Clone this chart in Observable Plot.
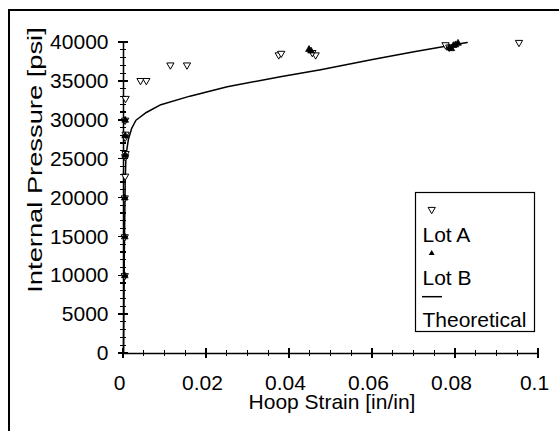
<!DOCTYPE html>
<html><head><meta charset="utf-8">
<script src="https://cdn.jsdelivr.net/npm/d3@7"></script>
<script src="https://cdn.jsdelivr.net/npm/@observablehq/plot@0.6"></script>
<style>
html,body{margin:0;padding:0;background:#fff}
body{width:559px;height:431px;overflow:hidden;position:relative;font-family:"Liberation Sans",Arial,sans-serif}
#frame{position:absolute;left:8px;top:9px;width:700px;height:600px;border-left:2px solid #000;border-top:2px solid #000}
#chart{position:absolute;left:0;top:0;width:559px;height:431px}
#chart svg{max-width:none}
#ticks{position:absolute;left:0;top:0;width:559px;height:431px;z-index:5;pointer-events:none}
#ticks div{position:absolute;background:#000}
</style></head><body>
<div id="frame"></div><div id="chart"></div><div id="ticks"></div>
<script>
// ---- data ----
const lotAStrain   = [0.0003,0.0003,0.0003,0.0004,0.0004,0.0005,0.0004,0.0005,0.0004,0.0005,0.0041,0.0055,0.0113,0.0153,0.0374,0.0380,0.0463,0.0455,0.0776,0.0785,0.0953];
const lotAPressure = [10000,15000,20000,22800,25300,25700,27800,28200,30000,32800,35100,35100,37100,37100,38400,38600,38400,38700,39700,39400,40000];
const lotBStrain   = [0.0003,0.0003,0.0003,0.0004,0.0004,0.0004,0.0447,0.0452,0.0785,0.0790,0.0795,0.0800,0.0806];
const lotBPressure = [10000,15000,20000,25500,28000,30000,39100,38900,39300,39200,39600,39700,39900];
const theoStrain   = [0,0.0002,0.0004,0.0006,0.0012,0.0020,0.0030,0.0055,0.0090,0.0160,0.0250,0.0378,0.0475,0.0600,0.0700,0.0828];
const theoPressure = [0,13000,22000,25500,27600,29000,30000,31000,32000,33100,34300,35600,36500,37800,38800,40000];
const xTicks = [0,0.02,0.04,0.06,0.08,0.1];
const xTickLabels = ["0","0.02","0.04","0.06","0.08","0.1"];
const xMinorTicks = [0.005,0.01,0.015,0.025,0.03,0.035,0.045,0.05,0.055,0.065,0.07,0.075,0.085,0.09,0.095];
const yTicks = [0,5000,10000,15000,20000,25000,30000,35000,40000];
const yTickLabels = ["0","5000","10000","15000","20000","25000","30000","35000","40000"];
const yMinorTicks = [1000,2000,3000,4000,6000,7000,8000,9000,11000,12000,13000,14000,16000,17000,18000,19000,
  21000,22000,23000,24000,26000,27000,28000,29000,31000,32000,33000,34000,36000,37000,38000,39000];
const xTitle = "Hoop Strain [in/in]";
const yTitle = "Internal Pressure [psi]";
const legendLabels = ["Lot A","Lot B","Theoretical"];

const W = 559, H = 431, ML = 123, MR = 21, MT = 42, MB = 78;
const xDomain = [0, 0.1], yDomain = [0, 40000];

const lotA = lotAStrain.map((x,i)=>({x, y: lotAPressure[i]}));
const lotB = lotBStrain.map((x,i)=>({x, y: lotBPressure[i]}));
const theo = theoStrain.map((x,i)=>({x, y: theoPressure[i]}));

const FONT = "Liberation Sans, Arial, sans-serif";
const plot = Plot.plot({
  width: W, height: H,
  marginLeft: ML, marginRight: MR, marginTop: MT, marginBottom: MB,
  style: {fontFamily: FONT, fontSize: "21px", background: "transparent", overflow: "visible", color: "#000"},
  x: {domain: xDomain, axis: null},
  y: {domain: yDomain, axis: null},
  marks: [
    Plot.ruleY([0], {stroke: "#000", strokeWidth: 1.5}),
    Plot.ruleX([0], {stroke: "#000", strokeWidth: 1.5}),
    Plot.text(xTicks, {x: d => d, frameAnchor: "bottom", lineAnchor: "top", dy: 22, dx: -4, fill: "#000",
      text: (d, i) => xTickLabels[i]}),
    Plot.text(yTicks, {y: d => d, frameAnchor: "left", textAnchor: "end", dx: -15, fill: "#000",
      text: (d, i) => yTickLabels[i]}),
    Plot.line(theo, {x: "x", y: "y", stroke: "#000", strokeWidth: 1.5}),
    Plot.dot(lotA, {x: "x", y: "y", symbol: "triangle", rotate: 180, r: 2.7, stroke: "#000", fill: "#fff", strokeWidth: 1}),
    Plot.dot(lotB, {x: "x", y: "y", symbol: "triangle", r: 2.5, fill: "#000", stroke: "#000", strokeWidth: 0.8})
  ]
});
document.getElementById("chart").append(plot);

const svg = d3.select(plot);

// pixel positions from the plot's own scales (fallback: the same linear mapping)
let fx, fy;
try {
  const ps = plot.scale("x"), py = plot.scale("y");
  fx = v => ps.apply(v); fy = v => py.apply(v);
  if (!isFinite(fx(0.05)) || !isFinite(fy(20000))) throw 0;
} catch (e) {
  const lx = d3.scaleLinear().domain(xDomain).range([ML, W - MR]);
  const ly = d3.scaleLinear().domain(yDomain).range([H - MB, MT]);
  fx = lx; fy = ly;
}
const x0 = fx(0), y0 = fy(0);

// tick marks crossing the axes (HTML overlay)
const tk = document.getElementById("ticks");
function addTick(left, top, w, h) {
  const el = document.createElement("div");
  el.style.left = left + "px"; el.style.top = top + "px";
  el.style.width = w + "px"; el.style.height = h + "px";
  tk.appendChild(el);
}
xTicks.forEach(v => addTick(fx(v) - 0.75, y0 - 5, 1.5, 10));
xMinorTicks.forEach(v => addTick(fx(v) - 0.6, y0 - 3, 1.2, 6));
yTicks.forEach(v => addTick(x0 - 5, fy(v) - 0.75, 10, 1.5));
yMinorTicks.forEach(v => addTick(x0 - 3, fy(v) - 0.6, 6, 1.2));

// titles
svg.append("text").attr("x", 332).attr("y", 409).attr("text-anchor", "middle")
  .attr("font-family", FONT).attr("font-size", 21).attr("fill", "#000").text(xTitle);
svg.append("text").attr("transform", "translate(42,160) rotate(-90) scale(1.3,1)").attr("text-anchor", "middle")
  .attr("font-family", FONT).attr("font-size", 21).attr("fill", "#000").text(yTitle);

// legend
const lg = svg.append("g").attr("text-anchor", "start");
lg.append("rect").attr("x", 415.5).attr("y", 192.5).attr("width", 119).attr("height", 139)
  .attr("fill", "#fff").attr("stroke", "#000").attr("stroke-width", 1.2);
lg.append("path").attr("d", d3.symbol(d3.symbolTriangle, Math.PI*2.7*2.7)())
  .attr("transform", "translate(431.7,209.5) rotate(180)").attr("fill", "#fff").attr("stroke", "#000");
lg.append("path").attr("d", d3.symbol(d3.symbolTriangle, Math.PI*2.2*2.2)())
  .attr("transform", "translate(431.7,253.3)").attr("fill", "#000");
lg.append("line").attr("x1", 422).attr("x2", 442).attr("y1", 296.7).attr("y2", 296.7)
  .attr("stroke", "#000").attr("stroke-width", 1.5);
[242, 285, 327].forEach((yy, i) => {
  lg.append("text").attr("x", 422.5).attr("y", yy).attr("font-family", FONT).attr("font-size", 21)
    .attr("text-anchor", "start").attr("fill", "#000").text(legendLabels[i]);
});
</script></body></html>
